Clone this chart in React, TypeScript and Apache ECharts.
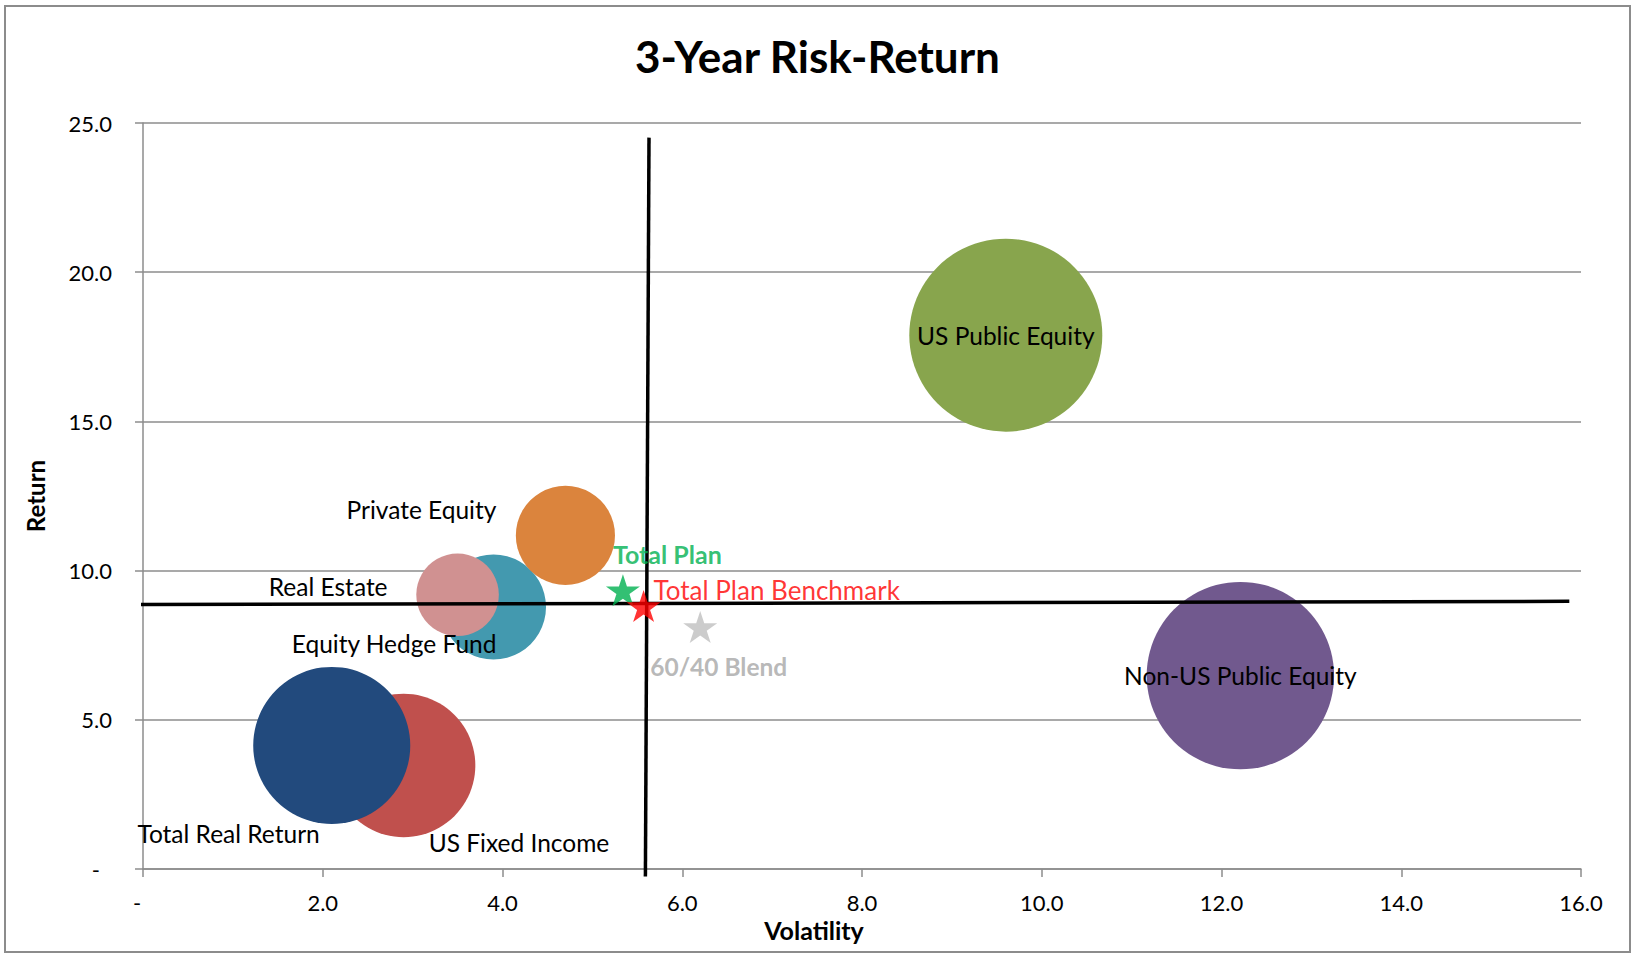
import React, { useEffect, useRef } from "react";
import * as echarts from "echarts";

// ---------- data ----------
const chartTitle = "3-Year Risk-Return";
const xAxisName = "Volatility";
const yAxisName = "Return";

const bubbleNames = [
  "US Fixed Income",
  "Total Real Return",
  "Equity Hedge Fund",
  "Real Estate",
  "Private Equity",
  "US Public Equity",
  "Non-US Public Equity",
];
const bubbleVolatility = [2.9, 2.1, 3.9, 3.5, 4.7, 9.6, 12.21];
const bubbleReturn = [3.47, 4.14, 8.78, 9.19, 11.18, 17.89, 6.48];
const bubbleSize = [55.2, 66.2, 29.6, 18.3, 26.4, 100, 94.3];

const starNames = ["Total Plan", "Total Plan Benchmark", "60/40 Blend"];
const starVolatility = [5.34, 5.57, 6.2];
const starReturn = [9.34, 8.81, 8.11];

const horizontalLine = [
  [-0.38, 8.86],
  [15.87, 8.97],
];
const verticalLine = [
  [5.63, 24.51],
  [5.59, -0.25],
];

// ---------- styles ----------
const FONT = "Lato, 'Open Sans', sans-serif";
const bubbleColors = ["#C0504D", "#224A7D", "#4399AF", "#D09191", "#DB843D", "#88A54D", "#71598E"];
const bubbleLabelStyle: Record<string, { align: string; offset: number[] }> = {
  "US Fixed Income": { align: "left", offset: [25, 77] },
  "Total Real Return": { align: "right", offset: [-12, 88] },
  "Equity Hedge Fund": { align: "right", offset: [3, 36] },
  "Real Estate": { align: "right", offset: [-70, -8] },
  "Private Equity": { align: "right", offset: [-69, -26] },
  "US Public Equity": { align: "center", offset: [0, 0] },
  "Non-US Public Equity": { align: "center", offset: [0, 0] },
};
const starColors = ["#00B050", "#FF0000", "#BFBFBF"];
const starLabelStyle = [
  { color: "#00B050", fontWeight: "bold", fontSize: 25, offset: [-10, -36] },
  { color: "#FF0000", fontWeight: "normal", fontSize: 26, offset: [10, -16] },
  { color: "#A6A6A6", fontWeight: "bold", fontSize: 24.5, offset: [-50, 40] },
];
const MAX_BUBBLE_DIAMETER = 193;
const STAR_PATH =
  "path://M50,0L61.23,34.55L97.55,34.55L68.17,55.9L79.39,90.45L50,69.1L20.61,90.45L31.83,55.9L2.45,34.55L38.77,34.55Z";

const tickFormatter = (v: number) => (v === 0 ? "{z|-}" : v.toFixed(1));

export default function App() {
  const ref = useRef<HTMLDivElement>(null);

  useEffect(() => {
    document.body.style.margin = "0";
    const chart = echarts.init(ref.current!, null, { renderer: "svg" });

    const bubbleData = bubbleNames.map((name, i) => ({
      name,
      value: [bubbleVolatility[i], bubbleReturn[i], bubbleSize[i]],
      symbolSize: MAX_BUBBLE_DIAMETER * Math.sqrt(bubbleSize[i] / Math.max(...bubbleSize)),
      itemStyle: { color: bubbleColors[i], opacity: 1 },
      label: {
        align: bubbleLabelStyle[name].align,
        offset: bubbleLabelStyle[name].offset,
      },
    }));

    const starData = starNames.map((name, i) => ({
      name,
      value: [starVolatility[i], starReturn[i]],
      itemStyle: { color: starColors[i] },
      label: {
        align: "left",
        color: starLabelStyle[i].color,
        fontWeight: starLabelStyle[i].fontWeight,
        fontSize: starLabelStyle[i].fontSize,
        offset: starLabelStyle[i].offset,
      },
    }));

    const axisLabelBase = {
      color: "#000",
      fontFamily: FONT,
      fontSize: 22,
      formatter: tickFormatter,
      rich: { z: { fontFamily: FONT, fontSize: 22, color: "#000", padding: [0, 12, 0, 0] } },
    };

    chart.setOption({
      animation: false,
      backgroundColor: "#fff",
      textStyle: { fontFamily: FONT },
      title: {
        text: chartTitle,
        left: "center",
        top: 29,
        textStyle: { fontFamily: FONT, fontSize: 44, fontWeight: "bold", color: "#000" },
      },
      graphic: [
        {
          type: "rect",
          shape: { x: 5, y: 6, width: 1625, height: 946 },
          style: { fill: "none", stroke: "#8C8C8C", lineWidth: 2 },
          silent: true,
          z: 100,
        },
      ],
      grid: { left: 143, right: 54, top: 123, bottom: 86, containLabel: false },
      xAxis: {
        type: "value",
        min: 0,
        max: 16,
        interval: 2,
        name: xAxisName,
        nameLocation: "middle",
        nameGap: 48,
        nameTextStyle: {
          fontFamily: FONT,
          fontSize: 25,
          fontWeight: "bold",
          color: "#000",
          padding: [0, 96, 0, 0],
        },
        axisLine: { show: true, lineStyle: { color: "#8C8C8C", width: 1.5 } },
        axisTick: { show: true, inside: false, length: 8, lineStyle: { color: "#8C8C8C", width: 1.5 } },
        axisLabel: { ...axisLabelBase, margin: 22 },
        splitLine: { show: false },
      },
      yAxis: {
        type: "value",
        min: 0,
        max: 25,
        interval: 5,
        name: yAxisName,
        nameLocation: "middle",
        nameGap: 96,
        nameRotate: 90,
        nameTextStyle: { fontFamily: FONT, fontSize: 24, fontWeight: "bold", color: "#000" },
        axisLine: { show: true, lineStyle: { color: "#8C8C8C", width: 1.5 } },
        axisTick: { show: true, inside: false, length: 8, lineStyle: { color: "#8C8C8C", width: 1.5 } },
        axisLabel: { ...axisLabelBase, margin: 31 },
        splitLine: { show: true, lineStyle: { color: "#8C8C8C", width: 1.5 } },
      },
      series: [
        {
          name: "Asset Classes",
          type: "scatter",
          z: 2,
          silent: true,
          symbol: "circle",
          data: bubbleData,
          label: {
            show: true,
            position: "inside",
            formatter: "{b}",
            color: "#000",
            fontFamily: FONT,
            fontSize: 24.5,
          },
        },
        {
          name: "Horizontal",
          type: "line",
          z: 3,
          silent: true,
          clip: false,
          symbol: "none",
          data: horizontalLine,
          lineStyle: { color: "#000", width: 3.5 },
        },
        {
          name: "Vertical",
          type: "line",
          z: 3,
          silent: true,
          clip: false,
          symbol: "none",
          data: verticalLine,
          lineStyle: { color: "#000", width: 3.5 },
        },
        {
          name: "Plan",
          type: "scatter",
          z: 4,
          silent: true,
          symbol: STAR_PATH,
          symbolSize: [34, 32],
          data: starData,
          label: {
            show: true,
            position: "inside",
            formatter: "{b}",
            fontFamily: FONT,
            fontSize: 24,
          },
        },
      ],
    });

    return () => chart.dispose();
  }, []);

  return <div ref={ref} style={{ width: 1635, height: 955 }} />;
}
